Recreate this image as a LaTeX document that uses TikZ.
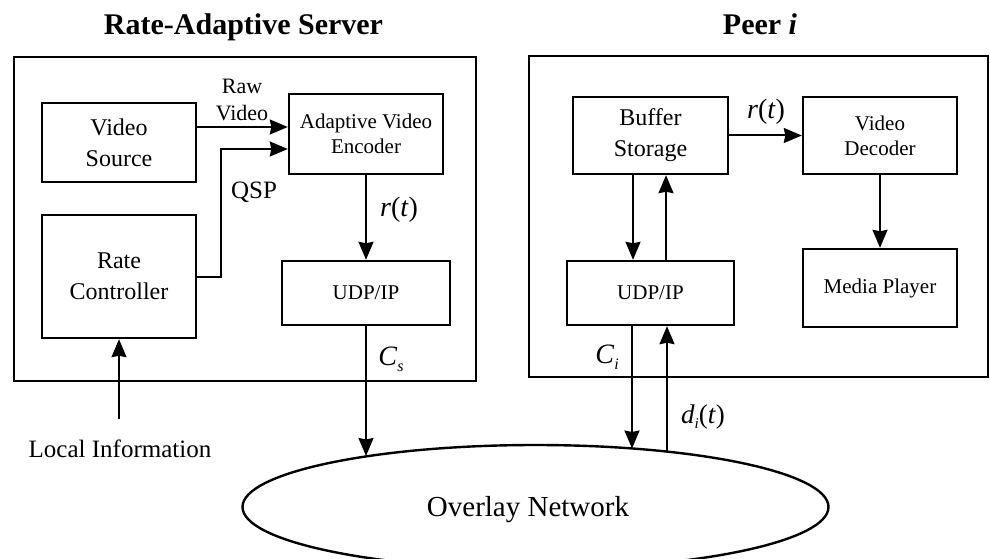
\documentclass[tikz,border=0pt]{standalone}
\usepackage{fontspec}
\setmainfont{Liberation Serif}
\usetikzlibrary{arrows.meta,shapes.geometric}
\begin{document}
\begin{tikzpicture}[x=1pt,y=-1pt,
  outer/.style={draw,line width=2pt,inner sep=0pt},
  box/.style={draw,line width=2.4pt,inner sep=0pt,align=center},
  bigtxt/.style={font=\fontsize{24}{31}\selectfont},
  smtxt/.style={font=\fontsize{21}{25}\selectfont},
  arr/.style={line width=2pt,-{Stealth[length=18pt,width=15pt,inset=1.5pt]}},
  ttl/.style={font=\fontsize{30}{36}\selectfont\bfseries,anchor=base,inner sep=0pt},
  lbl/.style={anchor=base,inner sep=0pt},
  mathlbl/.style={anchor=base,inner sep=0pt,font=\fontsize{28}{32}\selectfont}
]
\useasboundingbox (0,0) rectangle (990,559);

% titles
\node[ttl] (t1) at (243.5,35) {Rate-Adaptive Server};
\node[ttl] (t2) at (760,35) {Peer \textit{i}};

% outer boxes
\node[outer,minimum width=462pt,minimum height=324pt] (srv) at (245,219) {};
\node[outer,minimum width=459pt,minimum height=321pt] (peer) at (758.5,216.5) {};

% server side
\node[box,bigtxt,minimum width=154pt,minimum height=79pt] (vsrc) at (119,142.5) {Video\\Source};
\node[box,smtxt,minimum width=154pt,minimum height=80pt] (enc) at (366,134) {Adaptive Video\\Encoder};
\node[box,bigtxt,minimum width=154pt,minimum height=123pt] (rc) at (119,276.5) {Rate\\Controller};
\node[box,smtxt,minimum width=168pt,minimum height=64pt] (udpl) at (366,293) {UDP/IP};

% peer side
\node[box,bigtxt,minimum width=155pt,minimum height=77pt] (buf) at (650.5,135.5) {Buffer\\Storage};
\node[box,smtxt,minimum width=154pt,minimum height=77pt] (dec) at (880,135.5) {Video\\Decoder};
\node[box,smtxt,minimum width=167pt,minimum height=64pt] (udpr) at (650.5,293) {UDP/IP};
\node[box,smtxt,minimum width=154pt,minimum height=78pt] (mp) at (880,288) {Media Player};

% overlay network
\node[draw,ellipse,line width=2.4pt,inner sep=0pt,minimum width=586pt,minimum height=124pt] (net) at (535.5,507) {};
\node[font=\fontsize{29}{32}\selectfont,inner sep=0pt] (nettxt) at (528,510) {Overlay Network};

% free ends
\coordinate (li) at (119,419);
\coordinate (cse) at (366,456);
\coordinate (cie) at (632,448.5);
\coordinate (die) at (667,451.6);

% server arrows
\draw[arr] ([yshift=15.5pt]vsrc.east) coordinate (rv) -- (rv -| enc.west);
\draw[arr] (rc.east) -- ++(24pt,0) |- ([yshift=-15pt]enc.west);
\draw[arr] (enc) -- (udpl);
\draw[arr] (udpl.south) -- (cse);
\draw[arr] (li) -- (rc.south);

% peer arrows
\draw[arr] (buf) -- (dec);
\draw[arr] (dec) -- (mp);
\draw[arr] ([xshift=-17.5pt]buf.south) -- ([xshift=-17.5pt]udpr.north);
\draw[arr] ([xshift=15.5pt]udpr.north) -- ([xshift=15.5pt]buf.south);
\draw[arr] (cie |- udpr.south) -- (cie);
\draw[arr] (die) -- (die |- udpr.south);

% labels
\node[inner sep=0pt,align=center,font=\fontsize{22}{27}\selectfont,anchor=south] (raw) at (242,121) {Raw\\Video};
\node[lbl,font=\fontsize{25}{28}\selectfont] (qsp) at (254,198) {QSP};
\node[mathlbl] (rt1) at (399,216) {\textit{r}(\textit{t})};
\node[mathlbl] (rt2) at (766,118) {\textit{r}(\textit{t})};
\node[mathlbl] (cs) at (391,365) {\textit{C}\raisebox{-6pt}{\fontsize{16}{16}\selectfont\textit{s}}};
\node[mathlbl] (ci) at (607,363) {\textit{C}\raisebox{-6pt}{\fontsize{16}{16}\selectfont\textit{i}}};
\node[mathlbl,font=\fontsize{27}{30}\selectfont] (di) at (703,423) {\textit{d}\raisebox{-5pt}{\fontsize{15}{15}\selectfont\textit{i}}(\textit{t})};
\node[lbl,font=\fontsize{25}{28}\selectfont] (loc) at (120,457) {Local Information};
\end{tikzpicture}
\end{document}
